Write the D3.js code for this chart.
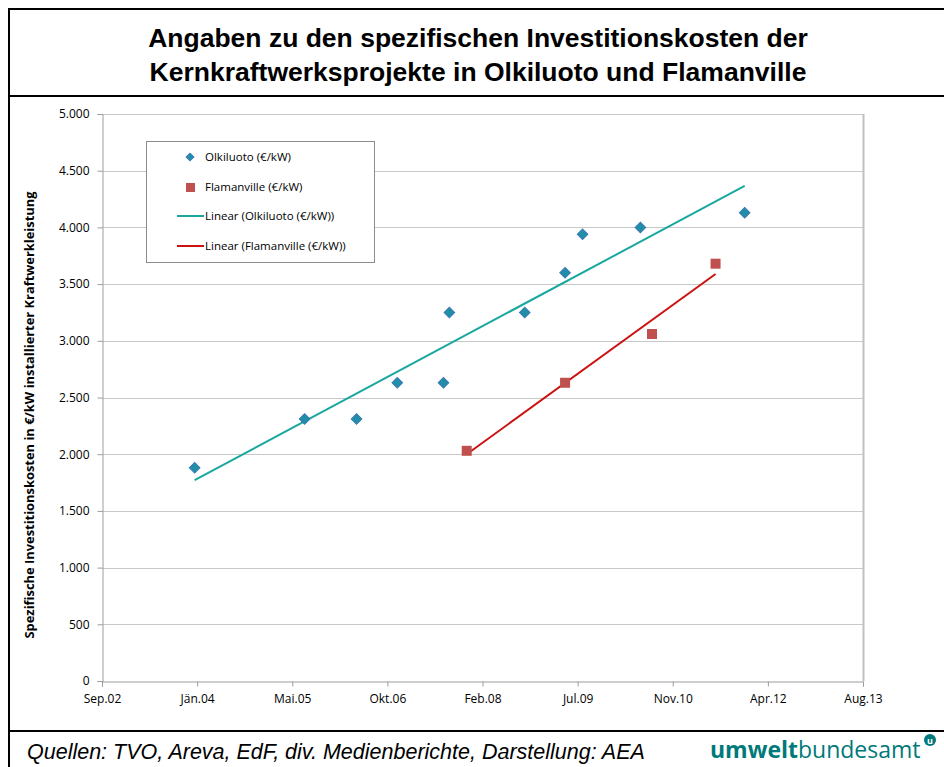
<!DOCTYPE html>
<html>
<head>
<meta charset="utf-8">
<script src="https://cdn.jsdelivr.net/npm/d3@7"></script>
<style>
  body { margin: 0; background: #fff; }
  svg { display: block; }
</style>
</head>
<body>
<script>
// chart data
var olkDates  = ["2004-01-01", "2005-08-01", "2006-05-01", "2006-12-01", "2007-08-01", "2007-09-01",
                 "2008-10-01", "2009-05-01", "2009-08-01", "2010-06-01", "2011-12-01"];
var olkValues = [1880, 2310, 2310, 2630, 2630, 3250, 3250, 3600, 3940, 4000, 4130];

var flaDates  = ["2007-12-01", "2009-05-01", "2010-08-01", "2011-07-01"];
var flaValues = [2030, 2630, 3060, 3680];

var xTickDates  = ["2002-09-01", "2004-01-14", "2005-05-28", "2006-10-10", "2008-02-22",
                   "2009-07-06", "2010-11-18", "2012-04-01", "2013-08-14"];
var xTickLabels = ["Sep.02", "Jän.04", "Mai.05", "Okt.06", "Feb.08", "Jul.09", "Nov.10", "Apr.12", "Aug.13"];
var yTicks = [0, 500, 1000, 1500, 2000, 2500, 3000, 3500, 4000, 4500, 5000];

var seriesNames = ["Olkiluoto (€/kW)", "Flamanville (€/kW)",
                   "Linear (Olkiluoto (€/kW))", "Linear (Flamanville (€/kW))"];

var width = 944;
var height = 767;

var svg = d3.select("body")
  .append("svg")
  .attr("width", width)
  .attr("height", height);

var parse = d3.timeParse("%Y-%m-%d");
var de = d3.formatLocale({decimal: ",", thousands: ".", grouping: [3], currency: ["", " €"]});
var fmt = de.format(",d");

// outer frame + title / footer separators
svg.append("rect")
  .attr("x", 9).attr("y", 9)
  .attr("width", 960).attr("height", 800)
  .attr("fill", "none")
  .attr("stroke", "#000")
  .attr("stroke-width", 2);
svg.append("line").attr("x1", 9).attr("x2", 944).attr("y1", 96).attr("y2", 96)
  .attr("stroke", "#000").attr("stroke-width", 2);
svg.append("line").attr("x1", 9).attr("x2", 944).attr("y1", 731).attr("y2", 731)
  .attr("stroke", "#000").attr("stroke-width", 2);

// title
var title = svg.append("text")
  .attr("text-anchor", "middle")
  .style("font-family", "Liberation Sans, Arial, sans-serif")
  .style("font-weight", "bold")
  .style("font-size", "26.5px");
title.append("tspan").attr("x", 478).attr("y", 47).text("Angaben zu den spezifischen Investitionskosten der");
title.append("tspan").attr("x", 478).attr("y", 81).text("Kernkraftwerksprojekte in Olkiluoto und Flamanville");

// plot area
var plotL = 102, plotR = 863, plotT = 114, plotB = 681;

var x = d3.scaleTime()
  .domain([parse(xTickDates[0]), parse(xTickDates[xTickDates.length - 1])])
  .range([plotL, plotR]);

var y = d3.scaleLinear()
  .domain([0, 5000])
  .range([plotB, plotT]);

// gridlines
svg.append("g")
  .selectAll("line")
  .data(yTicks.slice(1))
  .enter()
  .append("line")
  .attr("x1", plotL).attr("x2", plotR)
  .attr("y1", function(d) { return Math.round(y(d)) + 0.5; })
  .attr("y2", function(d) { return Math.round(y(d)) + 0.5; })
  .attr("stroke", "#c8c8c8");

// right border of the plot area
svg.append("line")
  .attr("x1", plotR + 0.5).attr("x2", plotR + 0.5)
  .attr("y1", plotT).attr("y2", plotB)
  .attr("stroke", "#c0c0c0").attr("stroke-width", 2);

// y axis
var yAxis = d3.axisLeft(y)
  .tickValues(yTicks)
  .tickFormat(fmt)
  .tickSize(5)
  .tickPadding(8);
var gy = svg.append("g")
  .attr("transform", "translate(" + (plotL + 0.5) + ",0)")
  .call(yAxis);

// x axis
var xAxis = d3.axisBottom(x)
  .tickValues(xTickDates.map(parse))
  .tickFormat(function(d, i) { return xTickLabels[i]; })
  .tickSize(5)
  .tickPadding(8);
var gx = svg.append("g")
  .attr("transform", "translate(0," + (plotB + 0.5) + ")")
  .call(xAxis);

[gx, gy].forEach(function(g) {
  g.select(".domain").attr("stroke", "#9c9c9c");
  g.selectAll(".tick line").attr("stroke", "#9c9c9c");
  g.selectAll("text")
    .attr("fill", "#000")
    .style("font-family", "Open Sans, sans-serif")
    .style("font-size", "12px");
});

// y axis title
svg.append("text")
  .attr("transform", "translate(34," + 415 + ") rotate(-90)")
  .attr("text-anchor", "middle")
  .style("font-family", "Open Sans, sans-serif")
  .style("font-weight", "bold")
  .style("font-size", "12.9px")
  .text("Spezifische Investitionskosten in €/kW installierter Kraftwerkleistung");

// linear trend (least squares) through each series
function trend(dates, values) {
  var xs = dates.map(function(d) { return +parse(d); });
  var mx = d3.mean(xs), my = d3.mean(values);
  var sxy = d3.sum(xs, function(v, i) { return (v - mx) * (values[i] - my); });
  var sxx = d3.sum(xs, function(v) { return (v - mx) * (v - mx); });
  var b = sxy / sxx, a = my - b * mx;
  var x0 = d3.min(xs), x1 = d3.max(xs);
  return [[x0, a + b * x0], [x1, a + b * x1]];
}

var line = d3.line()
  .x(function(d) { return x(new Date(d[0])); })
  .y(function(d) { return y(d[1]); });

svg.append("path")
  .attr("d", line(trend(olkDates, olkValues)))
  .attr("fill", "none")
  .attr("stroke", "#19a7a0")
  .attr("stroke-width", 2);

svg.append("path")
  .attr("d", line(trend(flaDates, flaValues)))
  .attr("fill", "none")
  .attr("stroke", "#cc1111")
  .attr("stroke-width", 2);

// markers: diamonds are squares turned by 45 degrees
var diamond = d3.symbol().type(d3.symbolSquare).size(56);

svg.append("g")
  .selectAll("path")
  .data(olkDates)
  .enter()
  .append("path")
  .attr("d", diamond)
  .attr("transform", function(d, i) {
    return "translate(" + x(parse(d)) + "," + y(olkValues[i]) + ") rotate(45)";
  })
  .attr("fill", "#1f8fa8")
  .attr("stroke", "#3c77b4")
  .attr("stroke-width", 1);

svg.append("g")
  .selectAll("rect")
  .data(flaDates)
  .enter()
  .append("rect")
  .attr("x", function(d) { return x(parse(d)) - 5; })
  .attr("y", function(d, i) { return y(flaValues[i]) - 5; })
  .attr("width", 10)
  .attr("height", 10)
  .attr("fill", "#c0504d");

// legend
var legend = svg.append("g").attr("transform", "translate(146,141)");
legend.append("rect")
  .attr("x", 0.5).attr("y", 0.5)
  .attr("width", 228).attr("height", 121)
  .attr("fill", "#fff")
  .attr("stroke", "#8c8c8c");

var rowY = [16, 46, 75, 105];
legend.append("path")
  .attr("d", d3.symbol().type(d3.symbolSquare).size(30))
  .attr("transform", "translate(44," + rowY[0] + ") rotate(45)")
  .attr("fill", "#1f8fa8").attr("stroke", "#3c77b4");
legend.append("rect")
  .attr("x", 40).attr("y", rowY[1] - 4)
  .attr("width", 9).attr("height", 9)
  .attr("fill", "#c0504d");
legend.append("line")
  .attr("x1", 31).attr("x2", 58).attr("y1", rowY[2]).attr("y2", rowY[2])
  .attr("stroke", "#19a7a0").attr("stroke-width", 2);
legend.append("line")
  .attr("x1", 31).attr("x2", 58).attr("y1", rowY[3]).attr("y2", rowY[3])
  .attr("stroke", "#cc1111").attr("stroke-width", 2);

legend.selectAll("text.lbl")
  .data(seriesNames)
  .enter()
  .append("text")
  .attr("class", "lbl")
  .attr("x", 59)
  .attr("y", function(d, i) { return rowY[i] + 4; })
  .style("font-family", "Open Sans, sans-serif")
  .style("font-size", "11.5px")
  .text(function(d) { return d; });

// footer
svg.append("text")
  .attr("x", 27).attr("y", 759)
  .style("font-family", "Liberation Sans, Arial, sans-serif")
  .style("font-style", "italic")
  .style("font-size", "21.5px")
  .text("Quellen: TVO, Areva, EdF, div. Medienberichte, Darstellung: AEA");

var logo = svg.append("text")
  .attr("x", 710).attr("y", 758)
  .attr("fill", "#00797a")
  .style("font-family", "Open Sans, sans-serif")
  .style("font-size", "23px");
logo.append("tspan").style("font-weight", "bold").text("umwelt");
logo.append("tspan").text("bundesamt");

svg.append("circle")
  .attr("cx", 930).attr("cy", 740).attr("r", 6)
  .attr("fill", "#00797a");
svg.append("text")
  .attr("x", 930).attr("y", 743.5)
  .attr("text-anchor", "middle")
  .attr("fill", "#fff")
  .style("font-family", "Open Sans, sans-serif")
  .style("font-weight", "bold")
  .style("font-size", "9px")
  .text("u");
</script>
</body>
</html>
